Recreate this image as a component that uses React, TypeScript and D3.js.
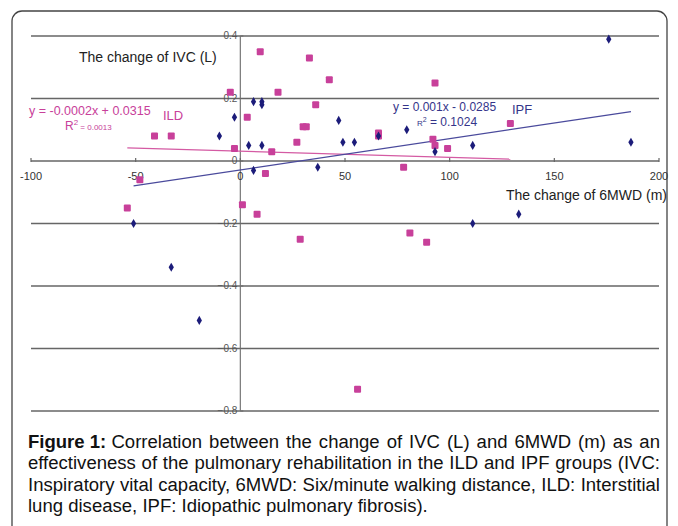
import React, { useEffect, useRef } from 'react';
import * as d3 from 'd3';

// ILD group (pink squares)
const ildX = [9.5, 33, 42.5, -4.8, 18, 36, 3.3, 30, 31.5, -41, -33, 27, -2.8, 15, 12, -48, -54, 1, 8, 28.6, 78, 81, 89, 93, 66, 66, 92, 93, 99, 129, 56];
const ildY = [0.35, 0.33, 0.26, 0.22, 0.22, 0.18, 0.14, 0.11, 0.11, 0.08, 0.08, 0.06, 0.04, 0.03, -0.04, -0.06, -0.15, -0.14, -0.17, -0.25, -0.02, -0.23, -0.26, 0.25, 0.09, 0.08, 0.07, 0.05, 0.04, 0.12, -0.73];

// IPF group (navy diamonds)
const ipfX = [6.3, 10.3, 10.3, -2.8, -10, 4, 10.3, 6.3, 37, 47, 49, 54.5, 66, 79.5, 176, 93, 111, 186.6, -51, -33, -19.6, 111, 133];
const ipfY = [0.19, 0.19, 0.18, 0.14, 0.08, 0.05, 0.05, -0.03, -0.02, 0.13, 0.06, 0.06, 0.08, 0.1, 0.39, 0.03, 0.05, 0.06, -0.2, -0.34, -0.51, -0.2, -0.17];

// trend lines as printed on the chart
const ildFit = { slope: -0.0002, intercept: 0.0315 };
const ipfFit = { slope: 0.001, intercept: -0.0285 };

const xTicks = [-100, -50, 0, 50, 100, 150, 200];
const yTicks = [0.4, 0.2, 0, -0.2, -0.4, -0.6, -0.8];

const captionLines = [
  'Correlation between the change of IVC (L) and 6MWD (m) as an',
  'effectiveness of the pulmonary rehabilitation in the ILD and IPF groups (IVC:',
  'Inspiratory vital capacity, 6MWD: Six/minute walking distance, ILD: Interstitial',
  'lung disease, IPF: Idiopathic pulmonary fibrosis).',
];

const PINK = '#c8409a';
const NAVY = '#1c1c7a';

const App = () => {
  const ref = useRef<HTMLDivElement>(null);

  useEffect(() => {
    const width = 678;
    const height = 526;
    const font = '"Liberation Sans", Arial, sans-serif';

    const svg = d3
      .select(ref.current)
      .append('svg')
      .attr('width', width)
      .attr('height', height)
      .style('position', 'absolute')
      .style('left', 0)
      .style('top', 0)
      .style('background', '#fff');

    // frame
    svg
      .append('rect')
      .attr('x', 12)
      .attr('y', 11)
      .attr('width', 655)
      .attr('height', 530)
      .attr('rx', 10)
      .attr('fill', 'none')
      .attr('stroke', '#444')
      .attr('stroke-width', 1.3);

    const x = d3.scaleLinear().domain([-100, 200]).range([31, 659]);
    const y = d3.scaleLinear().domain([-0.8, 0.4]).range([411, 36]);

    // horizontal gridlines
    svg
      .append('g')
      .selectAll('line')
      .data(yTicks)
      .enter()
      .append('line')
      .attr('x1', x(-100))
      .attr('x2', x(200))
      .attr('y1', (d) => y(d))
      .attr('y2', (d) => y(d))
      .attr('stroke', '#666')
      .attr('stroke-width', 1.6);

    // vertical axis
    svg
      .append('line')
      .attr('x1', x(0))
      .attr('x2', x(0))
      .attr('y1', y(0.4))
      .attr('y2', y(-0.8))
      .attr('stroke', '#777')
      .attr('stroke-width', 1.2);

    // x ticks
    svg
      .append('g')
      .selectAll('line')
      .data(xTicks)
      .enter()
      .append('line')
      .attr('x1', (d) => x(d))
      .attr('x2', (d) => x(d))
      .attr('y1', y(0) - 3)
      .attr('y2', y(0) + 1)
      .attr('stroke', '#666')
      .attr('stroke-width', 1.2);

    // y ticks
    svg
      .append('g')
      .selectAll('line')
      .data(yTicks)
      .enter()
      .append('line')
      .attr('x1', x(0))
      .attr('x2', x(0) + 3)
      .attr('y1', (d) => y(d))
      .attr('y2', (d) => y(d))
      .attr('stroke', '#666');

    // x tick labels
    svg
      .append('g')
      .selectAll('text')
      .data(xTicks)
      .enter()
      .append('text')
      .attr('x', (d) => x(d))
      .attr('y', y(0) + 19)
      .attr('text-anchor', 'middle')
      .attr('font-family', font)
      .attr('font-size', 11)
      .attr('fill', '#333')
      .text((d) => d);

    // y tick labels
    svg
      .append('g')
      .selectAll('text')
      .data(yTicks)
      .enter()
      .append('text')
      .attr('x', x(0) - 3)
      .attr('y', (d) => y(d) + 3)
      .attr('text-anchor', 'end')
      .attr('font-family', font)
      .attr('font-size', 10)
      .attr('fill', '#555')
      .text((d) => d3.format('.1~f')(d));

    // trend lines
    const fitLine = (xs: number[], fit: { slope: number; intercept: number }, color: string) => {
      const [lo, hi] = d3.extent(xs) as [number, number];
      svg
        .append('line')
        .attr('x1', x(lo))
        .attr('y1', y(fit.slope * lo + fit.intercept))
        .attr('x2', x(hi))
        .attr('y2', y(fit.slope * hi + fit.intercept))
        .attr('stroke', color)
        .attr('stroke-width', 1.3);
    };
    fitLine(ildX, ildFit, '#d45aa3');
    fitLine(ipfX, ipfFit, '#4a4a9c');

    // ILD points
    const ild = ildX.map((v, i) => [v, ildY[i]]);
    svg
      .append('g')
      .selectAll('rect')
      .data(ild)
      .enter()
      .append('rect')
      .attr('x', (d) => x(d[0]) - 3.5)
      .attr('y', (d) => y(d[1]) - 3.5)
      .attr('width', 7)
      .attr('height', 7)
      .attr('rx', 1)
      .attr('fill', PINK);

    // IPF points
    const ipf = ipfX.map((v, i) => [v, ipfY[i]]);
    const diamond = d3.symbol().type(d3.symbolDiamond).size(24);
    svg
      .append('g')
      .selectAll('path')
      .data(ipf)
      .enter()
      .append('path')
      .attr('d', diamond)
      .attr('transform', (d) => `translate(${x(d[0])},${y(d[1])})`)
      .attr('fill', NAVY);

    // axis titles
    svg
      .append('text')
      .attr('x', 79)
      .attr('y', 62)
      .attr('font-family', font)
      .attr('font-size', 14)
      .attr('fill', '#222')
      .text('The change of IVC (L)');
    svg
      .append('text')
      .attr('x', 667)
      .attr('y', 200)
      .attr('text-anchor', 'end')
      .attr('font-family', font)
      .attr('font-size', 14)
      .attr('fill', '#222')
      .text('The change of 6MWD (m)');

    // ILD equation
    svg
      .append('text')
      .attr('x', 29)
      .attr('y', 115)
      .attr('font-family', font)
      .attr('font-size', 12.5)
      .attr('fill', PINK)
      .text('y = -0.0002x + 0.0315');
    svg
      .append('text')
      .attr('x', 163)
      .attr('y', 120)
      .attr('font-family', font)
      .attr('font-size', 13)
      .attr('fill', PINK)
      .text('ILD');
    const r1 = svg
      .append('text')
      .attr('x', 65)
      .attr('y', 130)
      .attr('font-family', font)
      .attr('fill', PINK);
    r1.append('tspan').attr('font-size', 12).text('R');
    r1.append('tspan').attr('font-size', 8).attr('dy', -5).text('2');
    r1.append('tspan').attr('font-size', 8).attr('dy', 5).text(' = 0.0013');

    // IPF equation
    svg
      .append('text')
      .attr('x', 393)
      .attr('y', 111)
      .attr('font-family', font)
      .attr('font-size', 12)
      .attr('fill', '#34348a')
      .text('y = 0.001x - 0.0285');
    svg
      .append('text')
      .attr('x', 512)
      .attr('y', 114)
      .attr('font-family', font)
      .attr('font-size', 13)
      .attr('fill', '#34348a')
      .text('IPF');
    const r2 = svg
      .append('text')
      .attr('x', 417)
      .attr('y', 126)
      .attr('font-family', font)
      .attr('fill', '#34348a');
    r2.append('tspan').attr('font-size', 8).text('R');
    r2.append('tspan').attr('font-size', 7).attr('dy', -4).text('2');
    r2.append('tspan').attr('font-size', 12).attr('dy', 4).text(' = 0.1024');

    // caption: last line sets the glyph width, the others are justified
    const cap = svg.append('g').attr('font-family', font).attr('fill', '#111');
    const left = 28;
    const right = 660;
    const lastEnd = 428;
    const probe = cap.append('text').attr('font-size', 18).text(captionLines[3]);
    const sx = (lastEnd - left) / (probe.node() as SVGTextElement).getComputedTextLength();
    probe.remove();

    const bold = cap
      .append('text')
      .attr('transform', `scale(${sx},1)`)
      .attr('x', left / sx)
      .attr('y', 448)
      .attr('font-size', 18)
      .attr('font-weight', 'bold')
      .text('Figure 1:');
    const boldEnd = left + (bold.node() as SVGTextElement).getComputedTextLength() * sx + 5 * sx;

    captionLines.forEach((line, i) => {
      const start = i === 0 ? boldEnd : left;
      const t = cap
        .append('text')
        .attr('transform', `scale(${sx},1)`)
        .attr('x', start / sx)
        .attr('y', 448 + i * 21.5)
        .attr('font-size', 18)
        .text(line);
      if (i < 3) {
        const natural = (t.node() as SVGTextElement).getComputedTextLength();
        const spaces = (line.match(/ /g) || []).length;
        const extra = ((right - start) / sx - natural) / spaces;
        t.attr('word-spacing', extra);
      }
    });

    return () => {
      d3.select(ref.current).selectAll('*').remove();
    };
  }, []);

  return <div ref={ref}></div>;
};

export default App;
